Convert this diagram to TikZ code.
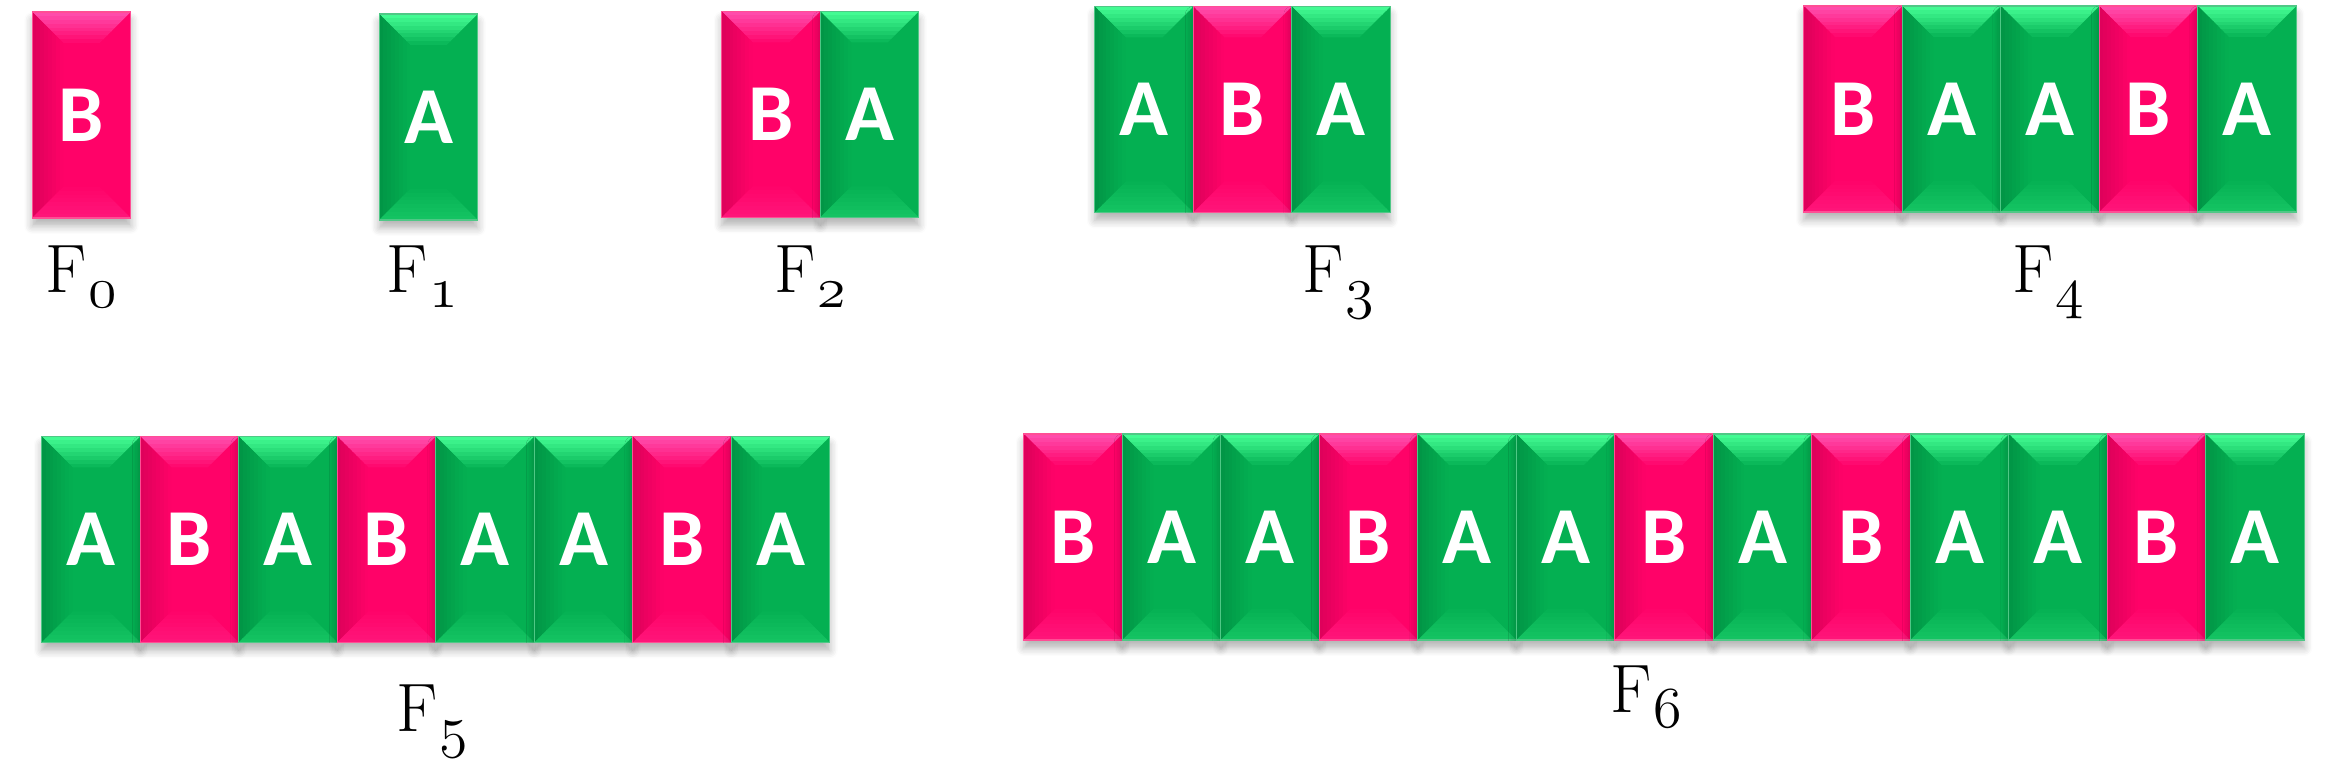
\documentclass[tikz,border=0pt]{standalone}
\usepackage{fix-cm}
\usepackage{fontspec}
\newfontfamily\tilefont{Carlito}
\usetikzlibrary{shadows.blur}

\definecolor{pinkbase}{RGB}{255,2,104}
\definecolor{pinklight}{RGB}{255,80,175}
\definecolor{pinkdark}{RGB}{212,0,86}
\definecolor{greenbase}{RGB}{4,176,82}
\definecolor{greenlight}{RGB}{70,255,150}
\definecolor{greendark}{RGB}{0,142,66}

% bevel of a tile: #1 light, #2 dark, #3 base
\newcommand{\bevel}[3]{%
  \begin{scope}
    \clip (path picture bounding box.north west) -- (path picture bounding box.north east)
      -- ++(-0.31,-0.31) -- ++(-0.365,0) -- cycle;
    \foreach \k [evaluate=\k as \p using 95-12*\k] in {0,...,7}
      \fill[#1!\p!#3] ([yshift=-\k*0.039cm]path picture bounding box.north west) rectangle ++(0.985,-0.042);
  \end{scope}
  \begin{scope}
    \clip (path picture bounding box.north west) -- ++(0.31,-0.31) -- ++(0,-1.44)
      -- (path picture bounding box.south west) -- cycle;
    \foreach \k [evaluate=\k as \p using 75-10*\k] in {0,...,7}
      \fill[#2!\p!#3] ([xshift=\k*0.039cm]path picture bounding box.north west) rectangle ++(0.042,-2.06);
  \end{scope}
  \begin{scope}
    \clip (path picture bounding box.south west) -- (path picture bounding box.south east)
      -- ++(-0.31,0.31) -- ++(-0.365,0) -- cycle;
    \foreach \k [evaluate=\k as \p using 24-3*\k] in {0,...,7}
      \fill[#1!\p!#3] ([yshift=\k*0.039cm]path picture bounding box.south west) rectangle ++(0.985,0.042);
  \end{scope}}
% F with an old style subscript
\newcommand{\fib}[1]{F\kern0.4pt\raisebox{-0.15cm}{\fontsize{16.5}{18}\usefont{OML}{cmm}{m}{it}#1}}

\tikzset{
  tile/.style={minimum width=9.85mm, minimum height=20.6mm, inner sep=0pt,
    text=white, font=\tilefont\bfseries\fontsize{23}{25}\selectfont,
    blur shadow={shadow xshift=0pt, shadow yshift=-0.8mm, shadow opacity=30, shadow blur steps=6, shadow blur radius=0.8mm}},
  tileA/.style={tile, fill=greenbase, draw=greenbase!70!white, line width=0.4pt,
    path picture={\bevel{greenlight}{greendark}{greenbase}}},
  tileB/.style={tile, fill=pinkbase, draw=pinkbase!70!white, line width=0.4pt,
    path picture={\bevel{pinklight}{pinkdark}{pinkbase}}},
  fname/.style={anchor=base, inner sep=0pt, font=\fontsize{19.5}{23}\selectfont}
}

\begin{document}
\begin{tikzpicture}
	\useasboundingbox (0,0) rectangle (23.39,7.6);
	
	% F_0 .. F_4
	\node (f0-1) at (0.815,6.45) [tileB] {B};
	
	\node (f1-1) at (4.285,6.43) [tileA] {A};
	
	\node (f2-1) at (7.71,6.455) [tileB] {B};
	\node (f2-2) at (8.695,6.455) [tileA] {A};
	
	\node (f3-1) at (11.44,6.505) [tileA] {A};
	\node (f3-2) at (12.425,6.505) [tileB] {B};
	\node (f3-3) at (13.41,6.505) [tileA] {A};
	
	\node (f4-1) at (18.53,6.51) [tileB] {B};
	\node (f4-2) at (19.515,6.51) [tileA] {A};
	\node (f4-3) at (20.50,6.51) [tileA] {A};
	\node (f4-4) at (21.485,6.51) [tileB] {B};
	\node (f4-5) at (22.47,6.51) [tileA] {A};
	
	\node (n0) at (0.81,4.67) [fname] {\fib{0}};
	\node (n1) at (4.22,4.67) [fname] {\fib{1}};
	\node (n2) at (8.10,4.67) [fname] {\fib{2}};
	\node (n3) at (13.38,4.67) [fname] {\fib{3}};
	\node (n4) at (20.48,4.67) [fname] {\fib{4}};
	
	% F_5
	\node (f5-1) at (0.91,2.205) [tileA] {A};
	\node (f5-2) at (1.895,2.205) [tileB] {B};
	\node (f5-3) at (2.88,2.205) [tileA] {A};
	\node (f5-4) at (3.865,2.205) [tileB] {B};
	\node (f5-5) at (4.85,2.205) [tileA] {A};
	\node (f5-6) at (5.835,2.205) [tileA] {A};
	\node (f5-7) at (6.82,2.205) [tileB] {B};
	\node (f5-8) at (7.805,2.205) [tileA] {A};
	\node (n5) at (4.32,0.28) [fname] {\fib{5}};
	
	% F_6
	\node (f6-1) at (10.73,2.23) [tileB] {B};
	\node (f6-2) at (11.715,2.23) [tileA] {A};
	\node (f6-3) at (12.70,2.23) [tileA] {A};
	\node (f6-4) at (13.685,2.23) [tileB] {B};
	\node (f6-5) at (14.67,2.23) [tileA] {A};
	\node (f6-6) at (15.655,2.23) [tileA] {A};
	\node (f6-7) at (16.64,2.23) [tileB] {B};
	\node (f6-8) at (17.625,2.23) [tileA] {A};
	\node (f6-9) at (18.61,2.23) [tileB] {B};
	\node (f6-10) at (19.595,2.23) [tileA] {A};
	\node (f6-11) at (20.58,2.23) [tileA] {A};
	\node (f6-12) at (21.565,2.23) [tileB] {B};
	\node (f6-13) at (22.55,2.23) [tileA] {A};
	\node (n6) at (16.46,0.47) [fname] {\fib{6}};
	
\end{tikzpicture}
\end{document}
